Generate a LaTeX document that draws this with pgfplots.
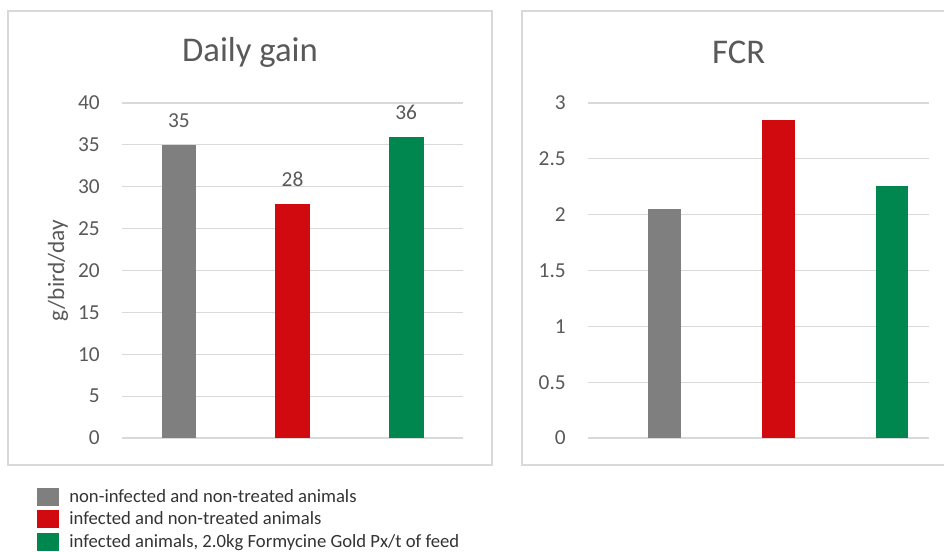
\documentclass[border=0pt]{standalone}
\usepackage{pgfplots}
\pgfplotsset{compat=1.18}
\usepackage{fontspec}
\setmainfont{Carlito}

\definecolor{cgray}{HTML}{7F7F7F}
\definecolor{cred}{HTML}{D00A0F}
\definecolor{cgreen}{HTML}{00874F}
\definecolor{gridc}{HTML}{D9D9D9}
\definecolor{txt}{HTML}{595959}
\definecolor{legtxt}{HTML}{333333}
\definecolor{boxc}{HTML}{D9D9D9}

% 1 px of the reference = 0.75pt
\pgfplotsset{
  panel/.style={
    scale only axis,
    width=255.75pt, height=251.25pt,
    anchor=south west,
    ymin=0,
    xtick=\empty,
    axis line style={draw=none},
    major tick length=0pt,
    ymajorgrids,
    grid style={gridc, line width=0.9pt},
    tick label style={font=\fontsize{16}{18}\selectfont, text=txt},
    /pgf/number format/assume math mode=true,
    yticklabel style={inner sep=0pt, anchor=east, xshift=-16.5pt},
    ybar, bar width=26pt,
    clip=false,
  },
  legsq/.style={legend image code/.code={
      \fill[##1] (0pt,-6.75pt) rectangle (16.5pt,6.75pt);
      \path (23pt,0pt);}},
}

\begin{document}
\begin{tikzpicture}
\path[use as bounding box] (0,0) rectangle (708pt,-413.25pt);

% panel frames
\draw[boxc, line width=0.9pt] (6pt,-8.25pt) rectangle (369pt,-348.75pt);
\draw[boxc, line width=0.9pt] (391.5pt,-8.25pt) rectangle (712pt,-348.75pt);

% titles
\node[text=txt, font=\fontsize{26}{30}\selectfont] at (187.5pt,-39pt) {Daily gain};
\node[text=txt, font=\fontsize{26}{30}\selectfont] at (554pt,-39pt) {FCR};

% Daily gain
\begin{axis}[panel,
  at={(91.5pt,-328.5pt)},
  xmin=-0.5, xmax=2.5,
  ymax=40, ytick distance=5,
  ylabel={g/bird/day},
  ylabel style={at={(axis description cs:-0.1877,0.5)}, anchor=center,
    font=\fontsize{17.5}{20}\selectfont, text=txt},
  nodes near coords,
  every node near coord/.append style={anchor=center, yshift=18pt,
    font=\fontsize{16}{18}\selectfont, text=txt},
  legend style={at={(axis description cs:-0.249,-0.147)}, anchor=north west,
    draw=none, fill=none, font=\fontsize{14}{16}\selectfont, text=legtxt,
    row sep=3.4pt, inner sep=0pt,
    nodes={inner sep=1pt}},
  legend cell align=left,
]
\addplot[fill=cgray, draw=none, bar shift=0pt, legsq] coordinates {(0,35)};
\addplot[fill=cred, draw=none, bar shift=0pt, legsq] coordinates {(1,28)};
\addplot[fill=cgreen, draw=none, bar shift=0pt, legsq] coordinates {(2,36)};
\legend{non-infected and non-treated animals,
  infected and non-treated animals,
  {infected animals, 2.0kg Formycine Gold Px/t of feed}}
\end{axis}

% FCR
\begin{axis}[panel,
  at={(441pt,-328.5pt)},
  xmin=-0.675, xmax=2.325,
  ymax=3, ytick distance=0.5,
  bar width=24.5pt,
]
\addplot[fill=cgray, draw=none, bar shift=0pt] coordinates {(0,2.05)};
\addplot[fill=cred, draw=none, bar shift=0pt] coordinates {(1,2.85)};
\addplot[fill=cgreen, draw=none, bar shift=0pt] coordinates {(2,2.26)};
\end{axis}
\end{tikzpicture}
\end{document}
